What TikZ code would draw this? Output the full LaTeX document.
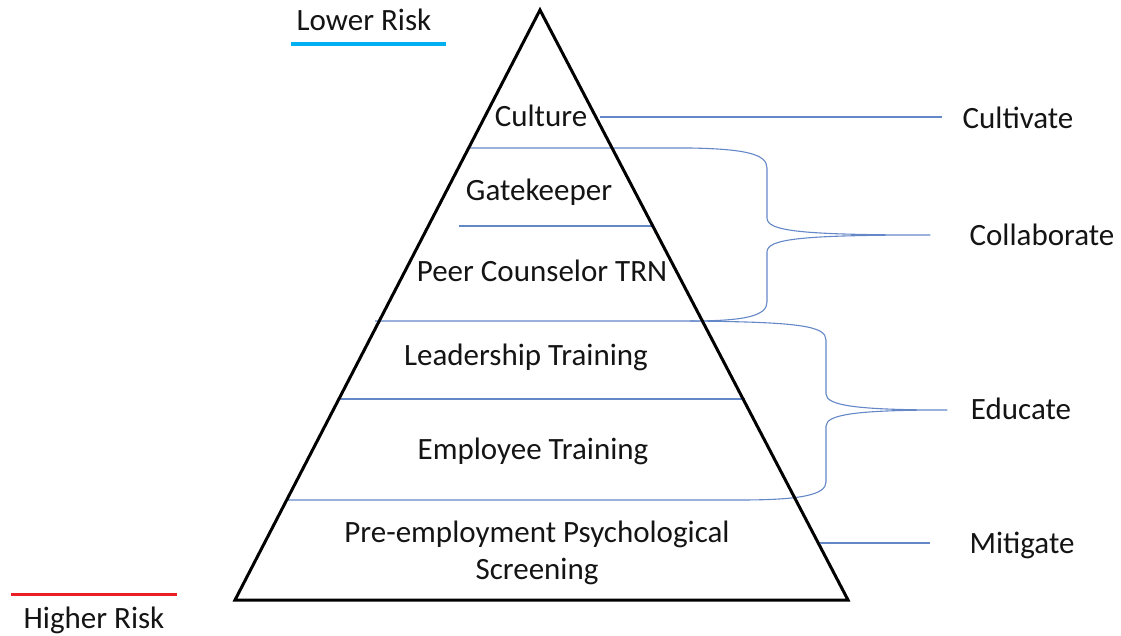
\documentclass[tikz,border=0pt]{standalone}
\usepackage{fontspec}
\setmainfont{Carlito}
\definecolor{tierblue}{RGB}{100,135,200}
\definecolor{lowcyan}{RGB}{0,176,240}
\definecolor{highred}{RGB}{235,30,35}
\begin{document}
\begin{tikzpicture}[x=1pt,y=-1pt,
  lbl/.style={font=\fontsize{31}{37}\selectfont, anchor=base, inner sep=0pt, text=black!92},
  tier/.style={draw=tierblue, line width=1.1pt},
  pyramid/.style={draw=black, line width=3pt, line join=miter},
  brace/.style={draw=tierblue, line width=1.1pt, line join=round}]
\useasboundingbox (0,0) rectangle (1121,636);

% risk scale
\node[lbl] (low) at (364,31) {Lower Risk};
\node[lbl] (high) at (94,628) {Higher Risk};
\coordinate (lowa) at (291,44);
\coordinate (lowb) at (446,44);
\coordinate (higha) at (11,594);
\coordinate (highb) at (177,594);
\draw[lowcyan, line width=3.5pt] (lowa) -- (lowb);
\draw[highred, line width=3pt] (higha) -- (highb);

% tier separators
\coordinate (s2a) at (459,226);
\coordinate (s2b) at (652,226);
\coordinate (s4a) at (340,399);
\coordinate (s4b) at (745,399);
\draw[tier] (s2a) -- (s2b);
\draw[tier] (s4a) -- (s4b);

% brace for Collaborate (separators at 148 and 321)
\coordinate (collab-tip) at (930,235);
\draw[brace] (470,148) -- (690,148)
  .. controls (745,149) and (767,154) .. (767,168) -- (767,218)
  .. controls (767,231) and (800,235) .. (collab-tip)
  .. controls (800,235) and (767,239) .. (767,252) -- (767,302)
  .. controls (767,316) and (745,321) .. (690,321) -- (375,321);

% brace for Educate (separators at 321 and 500)
\coordinate (educ-tip) at (947,410);
\draw[brace] (690,321)
  .. controls (800,322) and (826,326) .. (826,340) -- (826,394)
  .. controls (826,406) and (860,410) .. (educ-tip)
  .. controls (860,410) and (826,414) .. (826,426) -- (826,482)
  .. controls (826,495) and (800,500) .. (740,500) -- (287,500);

% pyramid outline
\coordinate (apex) at (540,10);
\coordinate (bl) at (235,600);
\coordinate (br) at (848,600);
\draw[pyramid] (apex) -- (br) -- (bl) -- cycle;

% tier labels
\node[lbl] (culture) at (541,127) {Culture};
\node[lbl] (gate) at (539,201) {Gatekeeper};
\node[lbl] (peer) at (542,281) {Peer Counselor TRN};
\node[lbl] (lead) at (526,365) {Leadership Training};
\node[lbl] (empl) at (533,459) {Employee Training};
\node[lbl] (pre1) at (537,542) {Pre-employment Psychological};
\node[lbl] (pre2) at (537,579) {Screening};

% action labels
\node[lbl] (cultivate) at (1018,129) {Cultivate};
\node[lbl] (collab) at (1042,246) {Collaborate};
\node[lbl] (educ) at (1021,419) {Educate};
\node[lbl] (mitig) at (1022,553) {Mitigate};

% single connectors
\coordinate (cul-a) at (600,117);
\coordinate (cul-b) at (942,117);
\coordinate (mit-a) at (820,543);
\coordinate (mit-b) at (930,543);
\draw[tier] (cul-a) -- (cul-b);
\draw[tier] (mit-a) -- (mit-b);
\end{tikzpicture}
\end{document}
